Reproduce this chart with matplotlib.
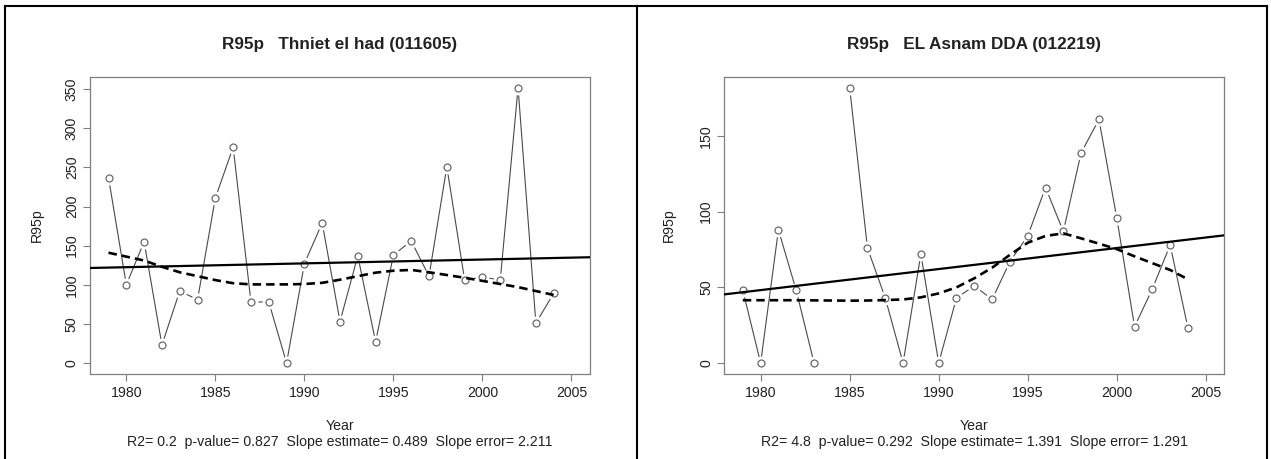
import matplotlib
matplotlib.use("Agg")
import matplotlib.pyplot as plt
from matplotlib.lines import Line2D
import numpy as np

plt.rcParams['font.family'] = ['Liberation Sans', 'DejaVu Sans']

# ---- data ----
years = list(range(1979, 2005))

thniet_r95p = [237, 100, 155, 23, 92, 81, 211, 276, 78, 78, 0, 127, 179,
               53, 137, 27, 138, 156, 111, 251, 106, 110, 106, 352, 51, 89]
thniet_lowess = [141, 136, 131, 123, 116, 111, 106, 102, 100.5, 100.5, 100.5,
                 101, 102.5, 106.5, 111, 115.5, 118, 119, 116, 112.5, 109,
                 105, 101, 97, 92, 87]

asnam_r95p = [48, 0, 88, 48, 0, np.nan, 182, 76, 43, 0, 72, 0, 43, 51, 42,
              67, 84, 116, 87, 139, 161, 96, 24, 49, 78, 23]
asnam_lowess = [41.5, 41.5, 41.5, 41.5, 41.4, 41.3, 41.2, 41.3, 41.6, 42,
                43.4, 46, 50, 56, 63, 71.5, 79.5, 84, 85.7, 82.4, 78.9,
                75.3, 70.5, 66, 61.5, 55.3]

# trend line: value at 1979 and slope estimate
thniet_trend = (122.0, 0.489)
asnam_trend = (46.8, 1.391)

titles = ["R95p   Thniet el had (011605)", "R95p   EL Asnam DDA (012219)"]
stats = ["R2= 0.2  p-value= 0.827  Slope estimate= 0.489  Slope error= 2.211",
         "R2= 4.8  p-value= 0.292  Slope estimate= 1.391  Slope error= 1.291"]
yticks = [[0, 50, 100, 150, 200, 250, 300, 350], [0, 50, 100, 150]]
xticks = [1980, 1985, 1990, 1995, 2000, 2005]

W, H = 1271, 459
fig = plt.figure(figsize=(W / 100, H / 100), dpi=100)


def panel(left_px, cell_px, values, smooth, trend, title, stat, yt):
    ax = fig.add_axes([left_px / W, 1 - 374 / H, 500 / W, 297.3 / H])
    vals = np.array(values, dtype=float)
    ymax = np.nanmax(vals)
    ax.set_xlim(1979 - 0.04 * 26, 2005 + 0.04 * 26)
    ax.set_ylim(-0.04 * ymax, ymax * 1.04)

    # observed series, R type="b" look: gaps around the open circles
    ax.plot(years, vals, color="#4a4a4a", lw=0.8, zorder=2)
    ax.plot(years, vals, ls="none", marker="o", ms=10, mfc="white",
            mec="none", zorder=3)
    ax.plot(years, vals, ls="none", marker="o", ms=5, mfc="white",
            mec="#6a6a6a", mew=0.9, zorder=4)

    ax.axline((1979, trend[0]), slope=trend[1], color="black", lw=1.6,
              zorder=5)
    ax.plot(years, smooth, color="black", lw=1.9, ls=(0, (3.2, 1.9)),
            zorder=5)

    for s in ax.spines.values():
        s.set_color("#7f7f7f")
        s.set_linewidth(0.9)
    ax.set_xticks(xticks)
    ax.set_yticks(yt)
    ax.tick_params(length=5, width=0.8, color="#7f7f7f", labelsize=10.2,
                   labelcolor="#222222")
    ax.tick_params(axis="x", pad=3.5)
    ax.tick_params(axis="y", pad=3)
    for lab in ax.get_yticklabels():
        lab.set_rotation(90)
        lab.set_va("center")

    ax.set_ylabel("R95p", fontsize=10.2, color="#222222", va="center")
    ax.yaxis.set_label_coords((cell_px + 32 - left_px) / 500, 0.5)
    ax.set_xlabel("Year", fontsize=10.2, color="#222222", va="center")
    ax.xaxis.set_label_coords(0.5, (374 - 426) / 297.3)
    ax.text(0.5, (374 - 442) / 297.3, stat, transform=ax.transAxes,
            ha="center", va="center", fontsize=10.2, color="#222222")
    fig.text((left_px + 250) / W, 1 - 45 / H, title, ha="center",
             va="center", fontsize=12.3, fontweight="bold", color="#222222")
    return ax


panel(90, 5, thniet_r95p, thniet_lowess, thniet_trend, titles[0], stats[0],
      yticks[0])
panel(724.3, 637, asnam_r95p, asnam_lowess, asnam_trend, titles[1], stats[1],
      yticks[1])

# table cell borders around the two pictures
for xs, ys in [((5, 5), (6, 459)), ((637, 637), (6, 459)),
               ((1267, 1267), (6, 459)), ((5, 1267), (6, 6))]:
    fig.add_artist(Line2D([x / W for x in xs], [1 - y / H for y in ys],
                          color="black", lw=1.5))

fig.savefig("out.png", dpi=100)
